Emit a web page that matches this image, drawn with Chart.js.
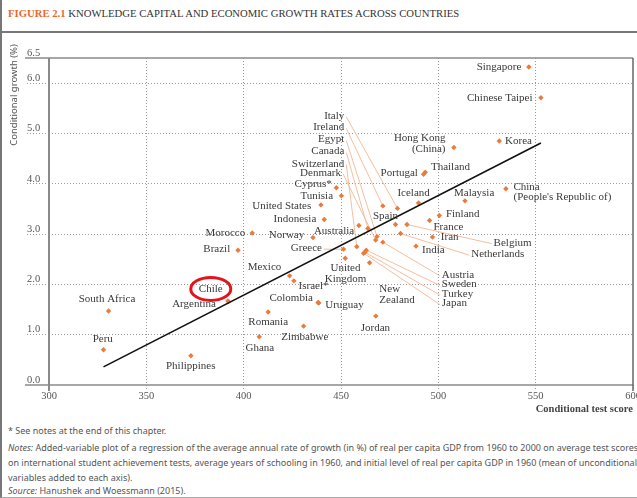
<!DOCTYPE html>
<html>
<head>
<meta charset="utf-8">
<script src="https://cdn.jsdelivr.net/npm/chart.js@4.4.1/dist/chart.umd.min.js"></script>
<style>
  body { margin: 0; width: 637px; height: 498px; overflow: hidden; background: #fff; position: relative; }
  #frame { position: absolute; left: 0; top: 0; width: 637px; height: 498px; border-left: 2px solid #777; border-bottom: 1px solid #aaa; box-sizing: border-box; }
  #title { position: absolute; left: 8px; top: 7px; font-family: "Liberation Serif", serif; font-size: 10.7px; color: #333; white-space: nowrap; }
  #title span { color: #e8692f; font-weight: bold; }
  #rule { position: absolute; left: 0; top: 31px; width: 637px; height: 2px; background: #777; }
  #wrap { position: absolute; left: 0; top: 0; width: 660px; height: 420px; }
  .note { position: absolute; left: 8px; font-family: "Noto Sans", sans-serif; font-size: 9px; color: #555; white-space: nowrap; }
</style>
</head>
<body>
<div id="frame"></div>
<div id="title"><span>FIGURE 2.1</span> KNOWLEDGE CAPITAL AND ECONOMIC GROWTH RATES ACROSS COUNTRIES</div>
<div id="rule"></div>
<div id="wrap"><canvas id="chart"></canvas></div>
<div class="note" style="top:424px">* See notes at the end of this chapter.</div>
<div class="note" style="top:441px"><i>Notes:</i> Added-variable plot of a regression of the average annual rate of growth (in %) of real per capita GDP from 1960 to 2000 on average test scores</div>
<div class="note" style="top:456px">on international student achievement tests, average years of schooling in 1960, and initial level of real per capita GDP in 1960 (mean of unconditional</div>
<div class="note" style="top:471px">variables added to each axis).</div>
<div class="note" style="top:484px"><i>Source:</i> Hanushek and Woessmann (2015).</div>

<script>
// data
const countries = ['Singapore', 'Chinese Taipei', 'Korea', 'Hong Kong (China)', 'Portugal', 'Thailand',
  'China (People\'s Republic of)', 'Malaysia', 'Iceland', 'Cyprus', 'Tunisia', 'United States', 'Indonesia',
  'Norway', 'Finland', 'France', 'Iran', 'India', 'Ireland', 'Italy', 'Australia', 'Canada', 'Spain',
  'Belgium', 'Netherlands', 'Egypt', 'Denmark', 'Austria', 'Switzerland', 'Sweden', 'Turkey', 'Japan',
  'Greece', 'United Kingdom', 'New Zealand', 'Morocco', 'Brazil', 'Mexico', 'Israel', 'Argentina', 'Chile',
  'Uruguay', 'Colombia', 'Romania', 'Zimbabwe', 'Ghana', 'Jordan', 'South Africa', 'Peru', 'Philippines'];
const testScore = [546.5, 552.7, 531.3, 508.0, 492.4, 493.3,
  534.7, 513.7, 489.8, 447.6, 450.2, 439.7, 441.4,
  435.6, 500.5, 495.5, 497.0, 488.5, 471.5, 479.0, 459.2, 463.8, 478.0,
  483.9, 480.6, 468.5, 467.8, 471.5, 458.1, 463.0, 462.3, 461.6,
  451.3, 452.2, 464.7, 404.4, 397.1, 423.6, 425.8, 391.9, 392.2,
  438.2, 438.6, 412.6, 430.8, 408.0, 467.9, 330.6, 328.0, 372.9];
const growth = [6.32, 5.71, 4.85, 4.72, 4.19, 4.23,
  3.90, 3.66, 3.62, 3.92, 3.76, 3.58, 3.29,
  2.93, 3.37, 3.27, 2.94, 2.76, 3.56, 3.51, 3.17, 3.11, 3.19,
  3.19, 3.01, 2.95, 2.88, 2.84, 2.75, 2.68, 2.64, 2.62,
  2.70, 2.52, 2.43, 3.02, 2.68, 2.17, 2.07, 1.67, 1.66,
  1.64, 1.63, 1.45, 1.17, 0.96, 1.37, 1.47, 0.70, 0.58];

// regression line end points
const fitScore = [328.0, 552.7];
const fitGrowth = [0.36, 4.81];

const xTicks = [300, 350, 400, 450, 500, 550, 600];
const yTicks = [0, 1, 2, 3, 4, 5, 6, 6.5];

// where each name sits (data units), its alignment and whether a leader line runs to the dot
const labelSpots = [
  { c: 'Singapore', x: 542.6, y: 6.32, a: 'right' },
  { c: 'Chinese Taipei', x: 548.4, y: 5.71, a: 'right' },
  { c: 'Korea', x: 534.3, y: 4.85, a: 'left' },
  { c: 'Hong Kong (China)', t: 'Hong Kong\n(China)', x: 503.7, y: 4.90, a: 'right' },
  { c: 'Portugal', x: 489.5, y: 4.21, a: 'right' },
  { c: 'Thailand', x: 496.2, y: 4.33, a: 'left' },
  { c: 'China (People\'s Republic of)', t: 'China\n(People\'s Republic of)', x: 538.6, y: 3.94, a: 'left' },
  { c: 'Malaysia', x: 518.4, y: 3.82, a: 'center' },
  { c: 'Iceland', x: 487.3, y: 3.82, a: 'center' },
  { c: 'Italy', x: 451.7, y: 5.35, a: 'right', lead: true },
  { c: 'Ireland', x: 451.7, y: 5.12, a: 'right', lead: true },
  { c: 'Egypt', x: 451.7, y: 4.88, a: 'right', lead: true },
  { c: 'Canada', x: 451.7, y: 4.64, a: 'right', lead: true },
  { c: 'Switzerland', x: 451.7, y: 4.40, a: 'right', lead: true },
  { c: 'Denmark', x: 450.0, y: 4.22, a: 'right', lead: true },
  { c: 'Cyprus', t: 'Cyprus*', x: 445.3, y: 3.99, a: 'right' },
  { c: 'Tunisia', x: 445.9, y: 3.76, a: 'right' },
  { c: 'United States', x: 434.7, y: 3.56, a: 'right' },
  { c: 'Indonesia', x: 437.3, y: 3.30, a: 'right' },
  { c: 'Norway', x: 431.1, y: 2.97, a: 'right' },
  { c: 'Australia', x: 456.8, y: 3.06, a: 'right' },
  { c: 'Greece', x: 440.2, y: 2.72, a: 'right', lead: true },
  { c: 'Spain', x: 466.4, y: 3.36, a: 'left' },
  { c: 'France', x: 497.5, y: 3.14, a: 'left' },
  { c: 'Finland', x: 503.9, y: 3.39, a: 'left' },
  { c: 'Iran', x: 501.3, y: 2.94, a: 'left' },
  { c: 'India', x: 491.6, y: 2.68, a: 'left' },
  { c: 'Belgium', x: 528.4, y: 2.83, a: 'left', lead: true },
  { c: 'Netherlands', x: 516.9, y: 2.60, a: 'left', lead: true },
  { c: 'Austria', x: 501.8, y: 2.19, a: 'left', lead: true },
  { c: 'Sweden', x: 501.8, y: 2.00, a: 'left', lead: true },
  { c: 'Turkey', x: 501.8, y: 1.81, a: 'left', lead: true },
  { c: 'Japan', x: 501.8, y: 1.62, a: 'left', lead: true },
  { c: 'Morocco', x: 400.8, y: 3.02, a: 'right' },
  { c: 'Brazil', x: 393.1, y: 2.70, a: 'right' },
  { c: 'Mexico', x: 410.7, y: 2.34, a: 'center' },
  { c: 'Israel', t: 'Israel*', x: 428.2, y: 1.97, a: 'left' },
  { c: 'Colombia', x: 424.4, y: 1.72, a: 'center' },
  { c: 'Uruguay', x: 441.9, y: 1.59, a: 'left' },
  { c: 'Romania', x: 412.6, y: 1.26, a: 'center' },
  { c: 'Zimbabwe', x: 431.4, y: 0.95, a: 'center' },
  { c: 'Ghana', x: 408.3, y: 0.74, a: 'center' },
  { c: 'United Kingdom', t: 'United\nKingdom', x: 452.3, y: 2.32, a: 'center' },
  { c: 'New Zealand', t: 'New\nZealand', x: 469.7, y: 1.90, a: 'left' },
  { c: 'Jordan', x: 467.7, y: 1.13, a: 'center' },
  { c: 'Argentina', x: 374.5, y: 1.61, a: 'center' },
  { c: 'Chile', x: 383.1, y: 1.91, a: 'center', ring: true },
  { c: 'South Africa', x: 329.8, y: 1.71, a: 'center' },
  { c: 'Peru', x: 327.6, y: 0.91, a: 'center' },
  { c: 'Philippines', x: 372.8, y: 0.38, a: 'center' }
];

const ORANGE = '#e97b3c';
const LABEL_FONT = '11px "Liberation Serif", serif';

const annotate = {
  id: 'annotate',
  beforeDatasetsDraw(chart) {
    const { ctx, chartArea: ca, scales: { x, y } } = chart;
    ctx.save();
    // solid frame: top, bottom, left, right
    ctx.strokeStyle = '#8a8a8a';
    ctx.lineWidth = 1.5;
    ctx.beginPath();
    ctx.moveTo(25, y.getPixelForValue(6.5)); ctx.lineTo(ca.right, y.getPixelForValue(6.5));
    ctx.moveTo(25, y.getPixelForValue(0)); ctx.lineTo(ca.right, y.getPixelForValue(0));
    ctx.stroke();
    ctx.lineWidth = 2;
    ctx.beginPath();
    ctx.moveTo(x.getPixelForValue(300), ca.top); ctx.lineTo(x.getPixelForValue(300), ca.bottom + 6);
    ctx.stroke();
    ctx.strokeStyle = '#666';
    ctx.lineWidth = 1.5;
    ctx.beginPath();
    ctx.moveTo(x.getPixelForValue(600), ca.top); ctx.lineTo(x.getPixelForValue(600), ca.bottom + 6);
    ctx.stroke();

    // leader lines
    ctx.font = LABEL_FONT;
    ctx.strokeStyle = '#f3b893';
    ctx.lineWidth = 0.9;
    labelSpots.filter(s => s.lead).forEach(s => {
      const i = countries.indexOf(s.c);
      const lx = x.getPixelForValue(s.x), ly = y.getPixelForValue(s.y);
      const sx = s.a === 'right' ? lx + 2 : lx - 2;
      ctx.beginPath();
      ctx.moveTo(sx, ly + 1);
      ctx.lineTo(x.getPixelForValue(testScore[i]), y.getPixelForValue(growth[i]));
      ctx.stroke();
    });
    ctx.restore();
  },
  afterDatasetsDraw(chart) {
    const { ctx, chartArea: ca, scales: { x, y } } = chart;
    ctx.save();
    ctx.font = LABEL_FONT;
    ctx.fillStyle = '#3a3a3a';
    ctx.textBaseline = 'middle';
    labelSpots.forEach(s => {
      const lx = x.getPixelForValue(s.x), ly = y.getPixelForValue(s.y);
      ctx.textAlign = s.a;
      (s.t || s.c).split('\n').forEach((line, k) => ctx.fillText(line, lx, ly + k * 10.5));
      if (s.ring) {
        ctx.strokeStyle = '#e3141c';
        ctx.lineWidth = 3;
        ctx.beginPath();
        ctx.ellipse(lx, ly, 20, 11.5, 0, 0, Math.PI * 2);
        ctx.stroke();
      }
    });

    // axis titles
    ctx.fillStyle = '#444';
    ctx.font = 'bold 10.5px "Liberation Serif", serif';
    ctx.textAlign = 'right';
    ctx.fillText('Conditional test score', ca.right, ca.bottom + 24);

    ctx.font = '9.5px "Noto Sans", sans-serif';
    ctx.fillStyle = '#555';
    ctx.translate(14, 95);
    ctx.rotate(-Math.PI / 2);
    ctx.textAlign = 'center';
    ctx.fillText('Conditional growth (%)', 0, 0);
    ctx.restore();
  }
};

const edgeX = v => v === 300 || v === 600;
const edgeY = v => v === 0 || v === 6.5;

new Chart(document.getElementById('chart'), {
  type: 'scatter',
  data: {
    datasets: [
      {
        type: 'line',
        data: fitScore.map((v, i) => ({ x: v, y: fitGrowth[i] })),
        borderColor: '#111',
        borderWidth: 1.6,
        pointRadius: 0,
        order: 0
      },
      {
        data: testScore.map((v, i) => ({ x: v, y: growth[i] })),
        pointStyle: 'rectRot',
        pointRadius: 2.7,
        backgroundColor: ORANGE,
        borderWidth: 0,
        order: 1
      }
    ]
  },
  options: {
    responsive: true,
    maintainAspectRatio: false,
    animation: false,
    layout: { padding: { top: 58, left: 27, right: 27, bottom: 5 } },
    plugins: { legend: { display: false }, tooltip: { enabled: false } },
    scales: {
      x: {
        type: 'linear', min: 300, max: 600,
        afterBuildTicks: s => { s.ticks = xTicks.map(v => ({ value: v })); },
        afterFit: s => { s.height = 30; },
        ticks: { font: { family: 'Liberation Serif', size: 10.5 }, color: '#555', padding: 0, maxRotation: 0, autoSkip: false, callback: v => String(v) },
        grid: {
          color: c => edgeX(c.tick.value) ? 'rgba(0,0,0,0)' : '#9a9a9a',
          tickColor: '#9a9a9a', tickLength: 5, tickBorderDash: [1, 2]
        },
        border: { display: false, dash: [1, 2] }
      },
      y: {
        min: 0, max: 6.5,
        afterBuildTicks: s => { s.ticks = yTicks.map(v => ({ value: v })); },
        afterFit: s => { s.width = 22; },
        ticks: { crossAlign: 'far', labelOffset: -5, padding: 0, font: { family: 'Liberation Serif', size: 10.5 }, color: '#555', autoSkip: false, callback: v => v.toFixed(1) },
        grid: {
          color: c => edgeY(c.tick.value) ? 'rgba(0,0,0,0)' : '#9a9a9a',
          tickColor: c => edgeY(c.tick.value) ? 'rgba(0,0,0,0)' : '#9a9a9a',
          tickLength: 22, tickBorderDash: [1, 2]
        },
        border: { display: false, dash: [1, 2] }
      }
    }
  },
  plugins: [annotate]
});
</script>
</body>
</html>
